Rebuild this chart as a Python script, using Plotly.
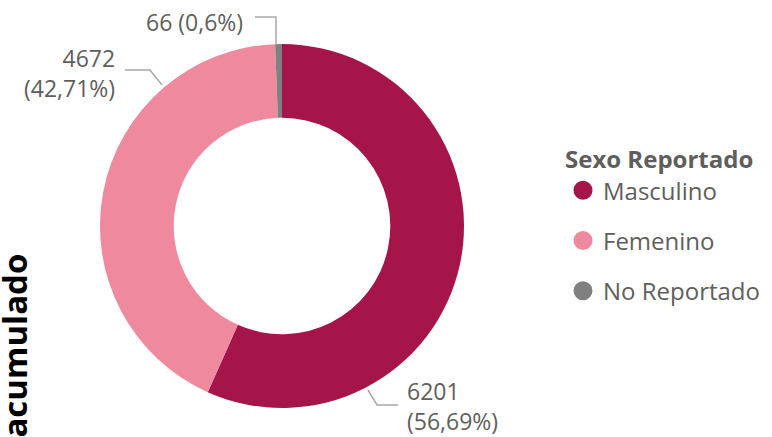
import plotly.graph_objects as go

# data
sexo = ["Masculino", "Femenino", "No Reportado"]
conteo = [6201, 4672, 66]
colores = ["#A6154A", "#EF899D", "#808080"]

FONT = "Open Sans"
GRIS = "#605E5C"
W, H = 772, 437


def px(x, y):
    return x / W, 1 - y / H


def pct_text(v, total):
    p = f"{100 * v / total:.2f}".rstrip("0").rstrip(".")
    return p.replace(".", ",") + "%"


total = sum(conteo)
etiquetas = [f"{v}<br>({pct_text(v, total)})" for v in conteo]
etiquetas[2] = f"{conteo[2]} ({pct_text(conteo[2], total)})"

fig = go.Figure()

fig.add_trace(
    go.Pie(
        labels=sexo,
        values=conteo,
        hole=0.595,
        sort=False,
        direction="clockwise",
        rotation=0,
        marker=dict(colors=colores, line=dict(width=0)),
        textinfo="none",
        showlegend=False,
        domain=dict(x=[px(100, 0)[0], px(464, 0)[0]], y=[px(0, 408)[1], px(0, 44)[1]]),
    )
)

# legend entries (circle markers)
for s, c in zip(sexo, colores):
    fig.add_trace(
        go.Scatter(
            x=[None], y=[None],
            mode="markers",
            name=s,
            legendgroup=s,
            marker=dict(color=c, size=16, symbol="circle", line=dict(color=c, width=3)),
            showlegend=True,
        )
    )

# outside labels + leader lines
lbl_pos = [
    (405, 406, "left"),
    (117, 73, "right"),
    (245, 22, "right"),
]
lineas = [
    [(368, 390), (377, 405), (398, 405)],
    [(162, 85), (150, 70), (125, 70)],
    [(276, 44), (276, 17), (255, 17)],
]
for (x, y, al), txt in zip(lbl_pos, etiquetas):
    ax, ay = px(x, y)
    fig.add_annotation(
        x=ax, y=ay, xref="paper", yref="paper",
        text=txt, showarrow=False, align=al,
        xanchor=al, yanchor="middle",
        font=dict(family=FONT, size=23, color=GRIS),
    )
for pts in lineas:
    path = "M " + " L ".join(f"{px(a, b)[0]},{px(a, b)[1]}" for a, b in pts)
    fig.add_shape(type="path", path=path, xref="paper", yref="paper",
                  line=dict(color="#A8A8A8", width=1.5))

# clipped axis-like title at left
fig.add_annotation(
    x=px(14, 0)[0], y=px(0, 252)[1], xref="paper", yref="paper",
    text="<b>Total acumulado</b>", textangle=-90, showarrow=False,
    xanchor="center", yanchor="top",
    font=dict(family=FONT, size=33, color="#000000"),
)

fig.update_layout(
    width=W, height=H,
    margin=dict(l=0, r=0, t=0, b=0),
    paper_bgcolor="white", plot_bgcolor="white",
    xaxis=dict(visible=False), yaxis=dict(visible=False),
    showlegend=True,
    legend=dict(
        x=px(563, 0)[0], y=px(0, 137)[1], xanchor="left", yanchor="top",
        title=dict(text="<b>Sexo Reportado</b>", font=dict(family=FONT, size=24, color=GRIS)),
        font=dict(family=FONT, size=24, color=GRIS),
        tracegroupgap=16, itemwidth=30,
        bgcolor="rgba(0,0,0,0)",
    ),
    font=dict(family=FONT, color=GRIS),
)

fig.write_html(
    "out.html",
    config={"displayModeBar": False},
    post_script="document.body.style.margin='0px';",
)
